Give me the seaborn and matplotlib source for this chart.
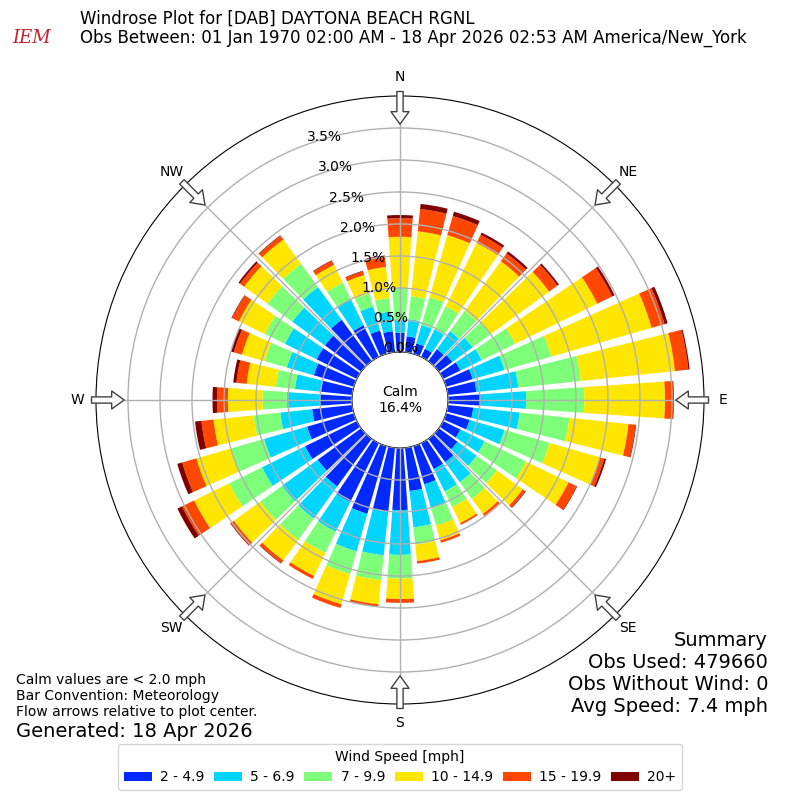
import numpy as np
import matplotlib
matplotlib.use("Agg")
import matplotlib.pyplot as plt
import seaborn as sns

sns.set_style("white")
plt.rcParams['font.family'] = ['DejaVu Sans']
plt.rcParams['text.color'] = 'black'
plt.rcParams['xtick.color'] = 'black'
plt.rcParams['ytick.color'] = 'black'

# direction of each bar, degrees clockwise from north
directions = np.arange(0, 360, 10)

# frequency (%) per speed bin for each direction
bin_labels = ["2 - 4.9", "5 - 6.9", "7 - 9.9", "10 - 14.9", "15 - 19.9", "20+"]
spd_2_5 = [0.30, 0.25, 0.17, 0.14, 0.23, 0.26, 0.30, 0.43, 0.45, 0.50, 0.40, 0.38,
           0.30, 0.36, 0.45, 0.45, 0.62, 0.68, 0.97, 1.00, 1.10, 1.02, 0.92, 0.84,
           0.90, 0.76, 0.63, 0.50, 0.49, 0.65, 0.70, 0.70, 0.80, 0.55, 0.38, 0.33]
spd_5_7 = [0.20, 0.27, 0.30, 0.34, 0.35, 0.39, 0.37, 0.52, 0.66, 0.72, 0.73, 0.57,
           0.42, 0.37, 0.39, 0.39, 0.39, 0.57, 0.70, 0.69, 0.61, 0.52, 0.62, 0.69,
           0.75, 0.70, 0.50, 0.52, 0.41, 0.44, 0.55, 0.63, 0.63, 0.45, 0.39, 0.31]
spd_7_10 = [0.50, 0.36, 0.45, 0.40, 0.39, 0.34, 0.58, 0.76, 0.98, 0.91, 0.78, 0.73,
            0.72, 0.39, 0.32, 0.27, 0.28, 0.27, 0.37, 0.39, 0.37, 0.37, 0.41, 0.42,
            0.57, 0.54, 0.42, 0.38, 0.30, 0.36, 0.35, 0.48, 0.45, 0.29, 0.21, 0.21]
spd_10_15 = [0.80, 1.02, 1.01, 1.10, 0.96, 1.14, 1.43, 1.63, 1.48, 1.26, 0.93, 0.82,
             0.74, 0.50, 0.29, 0.28, 0.24, 0.26, 0.32, 0.38, 0.49, 0.40, 0.40, 0.51,
             0.61, 0.56, 0.63, 0.54, 0.46, 0.37, 0.45, 0.45, 0.47, 0.31, 0.30, 0.49]
spd_15_20 = [0.29, 0.35, 0.31, 0.14, 0.15, 0.16, 0.26, 0.21, 0.21, 0.13, 0.11, 0.07,
             0.14, 0.05, 0.04, 0.03, 0.04, 0.04, 0.06, 0.04, 0.06, 0.05, 0.05, 0.06,
             0.21, 0.23, 0.19, 0.17, 0.16, 0.13, 0.12, 0.08, 0.07, 0.07, 0.06, 0.17]
spd_20 = [0.05, 0.08, 0.07, 0.04, 0.04, 0.03, 0.04, 0.05, 0.02, 0.01, 0.01, 0.03,
          0.01, 0.01, 0.00, 0.00, 0.00, 0.00, 0.00, 0.00, 0.00, 0.00, 0.01, 0.01,
          0.08, 0.08, 0.10, 0.07, 0.05, 0.05, 0.01, 0.03, 0.01, 0.01, 0.01, 0.01]
series = [spd_2_5, spd_5_7, spd_7_10, spd_10_15, spd_15_20, spd_20]

rticks = [0.0, 0.5, 1.0, 1.5, 2.0, 2.5, 3.0, 3.5]
compass = ["N", "NE", "E", "SE", "S", "SW", "W", "NW"]
calm_pct = 16.4
summary = ["Summary", "Obs Used: 479660", "Obs Without Wind: 0", "Avg Speed: 7.4 mph"]
notes = ["Calm values are < 2.0 mph", "Bar Convention: Meteorology",
         "Flow arrows relative to plot center."]

colors = sns.color_palette(plt.get_cmap("jet")(np.arange(1, 7) / 6.0))

fig = plt.figure(figsize=(8, 8), dpi=100)
ax = fig.add_axes([0.12, 0.12, 0.76, 0.76], projection="polar")
ax.set_theta_zero_location("N")
ax.set_theta_direction(-1)

theta = np.deg2rad(directions)
bottom = np.zeros(len(directions))
for vals, col, lab in zip(series, colors, bin_labels):
    vals = np.asarray(vals)
    ax.bar(theta, vals, width=np.deg2rad(8), bottom=bottom, color=col,
           label=lab, linewidth=0, align="center", zorder=1)
    bottom += vals

ax.set_ylim(0, 4)
ax.set_rorigin(-0.75)
ax.set_rgrids(rticks, labels=["%.1f%%" % r for r in rticks], angle=340,
              fontsize=10)
ax.set_thetagrids(np.arange(0, 360, 45), labels=compass, fontsize=10)
ax.tick_params(axis="x", pad=3)
ax.grid(True, color="#b0b0b0", lw=1)
ax.set_axisbelow(False)
ax.spines["polar"].set_color("black")
ax.spines["inner"].set_color("black")

ax.text(0.5, 0.5, "Calm\n%.1f%%" % calm_pct, transform=ax.transAxes,
        ha="center", va="center", fontsize=10)

# flow arrows at compass points
for ang in np.arange(0, 360, 45):
    th = np.deg2rad(ang)
    ax.annotate("", xy=(th, 3.56), xytext=(th, 4.07),
                arrowprops=dict(arrowstyle="simple,head_length=0.9,head_width=1.3,tail_width=0.45",
                                fc="white", ec="#404040", lw=1, shrinkA=0, shrinkB=0,
                                mutation_scale=10),
                annotation_clip=False, zorder=5)

fig.text(0.1, 0.976, "Windrose Plot for [DAB] DAYTONA BEACH RGNL", fontsize=12, va="center")
fig.text(0.1, 0.953, "Obs Between: 01 Jan 1970 02:00 AM - 18 Apr 2026 02:53 AM America/New_York",
         fontsize=12, va="center")
fig.text(0.04, 0.953, "IEM", color="#c0202a", fontsize=13, family="DejaVu Serif",
         style="italic", ha="center", va="center")

for i, line in enumerate(notes):
    fig.text(0.02, 0.15 - i * 0.02, line, fontsize=10, va="center")
fig.text(0.02, 0.086, "Generated: 18 Apr 2026", fontsize=14, va="center")
for i, line in enumerate(summary):
    fig.text(0.96, 0.199 - i * 0.0275, line, fontsize=14, ha="right", va="center")

fig.legend(loc="lower center", bbox_to_anchor=(0.5, 0.0125), ncol=6, fontsize=10,
           title="Wind Speed [mph]", title_fontsize=10, frameon=True,
           borderaxespad=0, columnspacing=0.7, handletextpad=0.6)

fig.savefig("out.png", dpi=100)
